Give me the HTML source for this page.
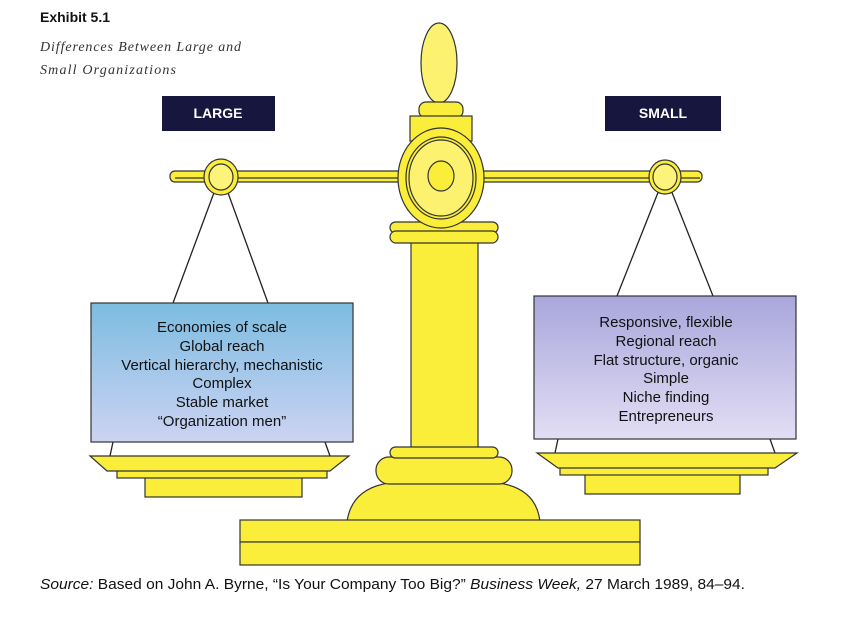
<!DOCTYPE html>
<html><head><meta charset="utf-8"><style>
body{margin:0;background:#fff;}
svg{display:block;}
</style></head><body>
<svg width="847" height="632" viewBox="0 0 847 632" xmlns="http://www.w3.org/2000/svg" font-family="Liberation Sans, sans-serif">
<defs>
<linearGradient id="bl" x1="0" y1="0" x2="0" y2="1"><stop offset="0" stop-color="#7cbce0"/><stop offset="1" stop-color="#cdd3f3"/></linearGradient>
<linearGradient id="pl" x1="0" y1="0" x2="0" y2="1"><stop offset="0" stop-color="#a9a6dc"/><stop offset="1" stop-color="#e2def4"/></linearGradient>
</defs>
<g stroke="#222" stroke-width="1.3">
<line x1="215" y1="190" x2="173" y2="303"/><line x1="227" y1="190" x2="268" y2="303"/>
<line x1="659" y1="190" x2="617" y2="296"/><line x1="671" y1="190" x2="713" y2="296"/>
<line x1="113" y1="442" x2="110" y2="456"/><line x1="325" y1="442" x2="330" y2="456"/>
<line x1="558" y1="439" x2="555" y2="453"/><line x1="770" y1="439" x2="775" y2="453"/>
</g>
<g fill="#fbee3a" stroke="#333" stroke-width="1.2">
<rect x="170" y="171" width="532" height="11" rx="5"/>
<line x1="175" y1="178" x2="700" y2="178"/>
<ellipse cx="221" cy="177" rx="17" ry="18"/><ellipse cx="221" cy="177" rx="12" ry="13" fill="#fcf37a"/>
<ellipse cx="665" cy="177" rx="16" ry="17"/><ellipse cx="665" cy="177" rx="12" ry="13" fill="#fcf37a"/>
<ellipse cx="439" cy="63" rx="18" ry="40" fill="#fcf270"/>
<rect x="419" y="102" width="44" height="16" rx="7"/>
<rect x="410" y="116" width="62" height="25"/>
<rect x="411" y="238" width="67" height="212"/>
<rect x="390" y="222" width="108" height="11" rx="5.5"/>
<rect x="390" y="231" width="108" height="12" rx="6"/>
<ellipse cx="441" cy="178" rx="43" ry="50"/>
<ellipse cx="441" cy="178" rx="35" ry="41" fill="none"/>
<ellipse cx="441" cy="178" rx="32" ry="38" fill="#fcf270"/>
<ellipse cx="441" cy="176" rx="13" ry="15"/>
<path d="M347 522 Q352 484 400 482 L488 482 Q536 484 540 522 Z"/>
<rect x="376" y="457" width="136" height="27" rx="13"/>
<rect x="390" y="447" width="108" height="11" rx="5.5"/>
<rect x="240" y="520" width="400" height="22"/>
<rect x="240" y="542" width="400" height="23"/>
<rect x="145" y="477" width="157" height="20"/>
<rect x="117" y="470" width="210" height="8"/>
<polygon points="90,456 349,456 330,471 107,471"/>
<rect x="585" y="474" width="155" height="20"/>
<rect x="560" y="467" width="208" height="8"/>
<polygon points="537,453 797,453 775,468 558,468"/>
</g>
<rect x="91" y="303" width="262" height="139" fill="url(#bl)" stroke="#333" stroke-width="1.2"/>
<rect x="534" y="296" width="262" height="143" fill="url(#pl)" stroke="#333" stroke-width="1.2"/>
<g font-size="15" fill="#111" text-anchor="middle">
<text x="222" y="332">Economies of scale</text>
<text x="222" y="351">Global reach</text>
<text x="222" y="370">Vertical hierarchy, mechanistic</text>
<text x="222" y="388">Complex</text>
<text x="222" y="407">Stable market</text>
<text x="222" y="426">“Organization men”</text>
<text x="666" y="327">Responsive, flexible</text>
<text x="666" y="346">Regional reach</text>
<text x="666" y="365">Flat structure, organic</text>
<text x="666" y="383">Simple</text>
<text x="666" y="402">Niche finding</text>
<text x="666" y="421">Entrepreneurs</text>
</g>
<rect x="162" y="96" width="113" height="35" fill="#16163f"/>
<rect x="605" y="96" width="116" height="35" fill="#16163f"/>
<text x="218" y="118" font-size="14" font-weight="bold" fill="#fff" text-anchor="middle">LARGE</text>
<text x="663" y="118" font-size="14" font-weight="bold" fill="#fff" text-anchor="middle">SMALL</text>
<text x="40" y="22" font-size="14" font-weight="bold" fill="#111">Exhibit 5.1</text>
<text x="40" y="51" font-size="14" font-style="italic" font-family="Liberation Serif, serif" fill="#333" textLength="201" lengthAdjust="spacing">Differences Between Large and</text>
<text x="40" y="74" font-size="14" font-style="italic" font-family="Liberation Serif, serif" fill="#333" textLength="136" lengthAdjust="spacing">Small Organizations</text>
<text x="40" y="589" font-size="15" fill="#111" textLength="705" lengthAdjust="spacingAndGlyphs"><tspan font-style="italic">Source:</tspan> Based on John A. Byrne, “Is Your Company Too Big?” <tspan font-style="italic">Business Week,</tspan> 27 March 1989, 84–94.</text>
</svg>
</body></html>
